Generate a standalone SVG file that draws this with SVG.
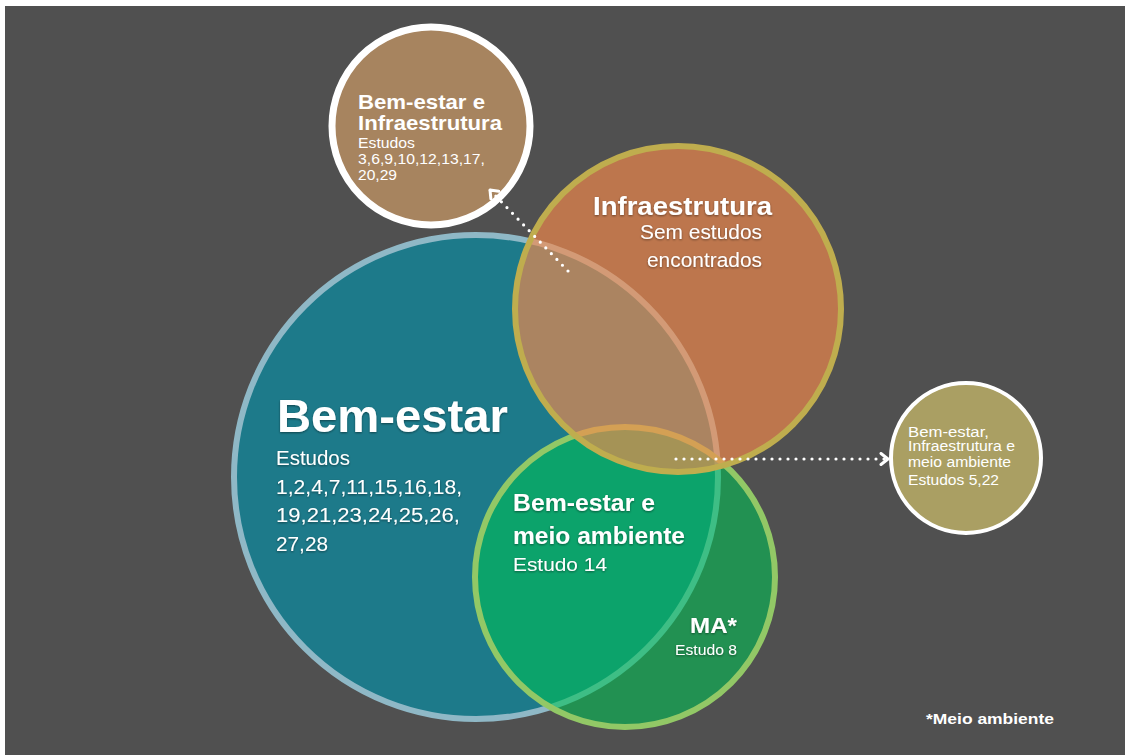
<svg xmlns="http://www.w3.org/2000/svg" width="1125" height="755" viewBox="0 0 1125 755">
<defs>
<style>
text{font-family:"Liberation Sans",Arial,Helvetica,sans-serif;fill:#ffffff}
.b{font-weight:bold}
.sh{filter:url(#sh)}
.dot{fill:none;stroke:#ffffff;stroke-width:3.2;stroke-linecap:round;stroke-dasharray:0 8}
</style>
<filter id="sh" x="-10%" y="-30%" width="120%" height="160%">
<feDropShadow dx="0" dy="1" stdDeviation="1.3" flood-color="#000" flood-opacity="0.45"/>
</filter>
<marker id="chev" viewBox="0 0 12 14" refX="10" refY="7" markerWidth="12" markerHeight="14" markerUnits="userSpaceOnUse" orient="auto">
<path d="M3,1.5 L10,7 L3,12.5" fill="none" stroke="#ffffff" stroke-width="3" stroke-linecap="round" stroke-linejoin="round"/>
</marker>
</defs>
<rect x="0" y="0" width="1125" height="755" fill="#ffffff"/>
<rect x="5" y="6" width="1120" height="749" fill="#505050"/>

<g id="bem-estar">
<circle cx="476" cy="477" r="242" fill="#1d7a8a" stroke="#8fb8c6" stroke-width="6"/>
</g>
<g id="meio-ambiente">
<circle cx="625" cy="577" r="150" fill="#00c354" fill-opacity="0.57" stroke="#92c866" stroke-width="6"/>
</g>
<g id="infraestrutura">
<circle cx="678" cy="309" r="163" fill="#f88a4b" fill-opacity="0.65" stroke="#bfad4e" stroke-width="6"/>
</g>

<g id="bem-estar-labels">
<text class="b sh" x="277" y="432" font-size="47" textLength="231" lengthAdjust="spacingAndGlyphs">Bem-estar</text>
<text class="sh" x="276" y="465" font-size="20" textLength="74" lengthAdjust="spacingAndGlyphs">Estudos</text>
<text class="sh" x="276" y="494" font-size="20" textLength="186" lengthAdjust="spacingAndGlyphs">1,2,4,7,11,15,16,18,</text>
<text class="sh" x="276" y="522" font-size="20" textLength="184" lengthAdjust="spacingAndGlyphs">19,21,23,24,25,26,</text>
<text class="sh" x="276" y="551" font-size="20" textLength="52" lengthAdjust="spacingAndGlyphs">27,28</text>
</g>
<g id="infraestrutura-labels">
<text class="b sh" x="593" y="215" font-size="25" textLength="179" lengthAdjust="spacingAndGlyphs">Infraestrutura</text>
<text class="sh" x="640" y="239" font-size="20.5" textLength="122" lengthAdjust="spacingAndGlyphs">Sem estudos</text>
<text class="sh" x="647" y="267" font-size="20.5" textLength="115" lengthAdjust="spacingAndGlyphs">encontrados</text>
</g>
<g id="bem-estar-meio-ambiente">
<text class="b sh" x="513" y="511" font-size="23" textLength="142" lengthAdjust="spacingAndGlyphs">Bem-estar e</text>
<text class="b sh" x="513" y="544" font-size="23" textLength="172" lengthAdjust="spacingAndGlyphs">meio ambiente</text>
<text class="sh" x="513" y="571" font-size="18.5" textLength="94" lengthAdjust="spacingAndGlyphs">Estudo 14</text>
</g>
<g id="ma">
<text class="b sh" x="737" y="633" font-size="22" text-anchor="end" textLength="47" lengthAdjust="spacingAndGlyphs">MA*</text>
<text class="sh" x="737" y="655" font-size="15" text-anchor="end" textLength="62" lengthAdjust="spacingAndGlyphs">Estudo 8</text>
</g>

<g id="bem-estar-infraestrutura">
<circle cx="431" cy="126" r="99" fill="#a7845f" stroke="#ffffff" stroke-width="7"/>
<text class="b" x="358" y="109" font-size="21" textLength="127" lengthAdjust="spacingAndGlyphs">Bem-estar e</text>
<text class="b" x="358" y="130" font-size="21" textLength="144" lengthAdjust="spacingAndGlyphs">Infraestrutura</text>
<text x="358" y="148" font-size="14.5" textLength="57" lengthAdjust="spacingAndGlyphs">Estudos</text>
<text x="358" y="164" font-size="14.5" textLength="127" lengthAdjust="spacingAndGlyphs">3,6,9,10,12,13,17,</text>
<text x="358" y="180" font-size="14.5" textLength="39" lengthAdjust="spacingAndGlyphs">20,29</text>
</g>

<g id="todos">
<circle cx="966" cy="458" r="75" fill="#aa9f63" stroke="#ffffff" stroke-width="4"/>
<text x="908" y="437" font-size="14" textLength="81" lengthAdjust="spacingAndGlyphs">Bem-estar,</text>
<text x="908" y="451" font-size="14" textLength="107" lengthAdjust="spacingAndGlyphs">Infraestrutura e</text>
<text x="908" y="467" font-size="14" textLength="103" lengthAdjust="spacingAndGlyphs">meio ambiente</text>
<text x="908" y="485" font-size="15" textLength="91" lengthAdjust="spacingAndGlyphs">Estudos 5,22</text>
</g>

<g id="connectors">
<path class="dot" d="M568,271 L490,190" marker-end="url(#chev)"/>
<path class="dot" d="M676,459 L888,459" marker-end="url(#chev)"/>
</g>

<g id="footnote">
<text class="b" x="926" y="724" font-size="15.5" textLength="128" lengthAdjust="spacingAndGlyphs">*Meio ambiente</text>
</g>
</svg>
